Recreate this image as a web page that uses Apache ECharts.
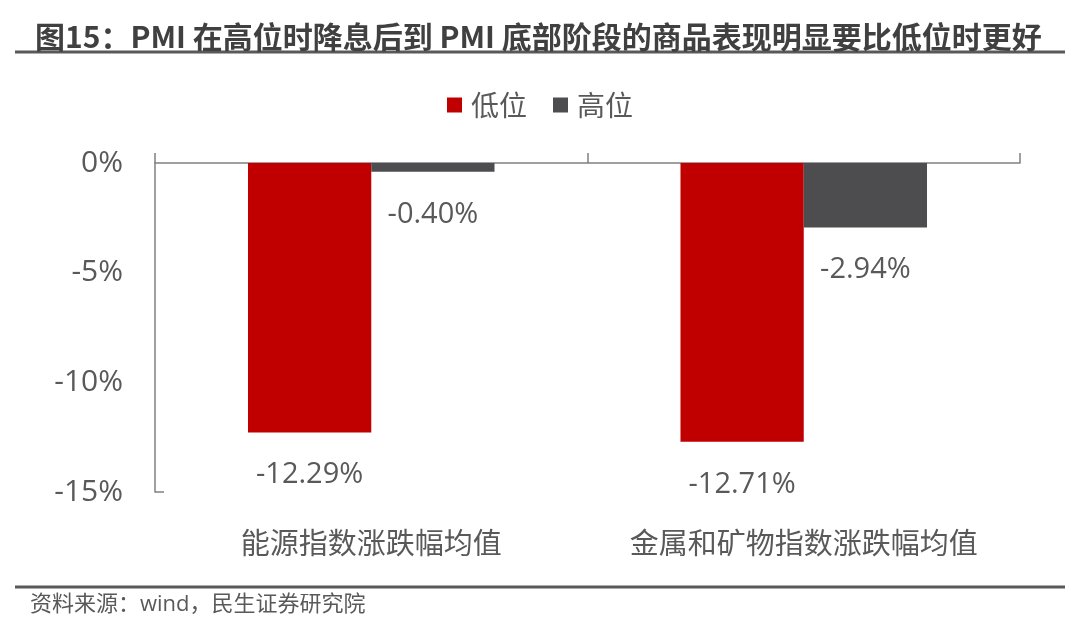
<!DOCTYPE html>
<html>
<head>
<meta charset="utf-8">
<script src="https://cdn.jsdelivr.net/npm/echarts@6/dist/echarts.min.js"></script>
<style>
html,body{margin:0;padding:0;background:#fff;}
#c{width:1080px;height:628px;}
</style>
</head>
<body>
<div id="c"></div>
<script>
const titleText = '图15：PMI 在高位时降息后到 PMI 底部阶段的商品表现明显要比低位时更好';
const sourceText = '资料来源：wind，民生证券研究院';
const categories = ['能源指数涨跌幅均值', '金属和矿物指数涨跌幅均值'];
const seriesNames = ['低位', '高位'];
const lowValues = [-12.29, -12.71];
const highValues = [-0.40, -2.94];
const yTicks = [0, -5, -10, -15];

const CJK = '"Noto Sans CJK SC", "Noto Sans", sans-serif';
const FONT = '"Open Sans", "Noto Sans CJK SC", sans-serif';
const TXT = '#595959';
const RED = '#c00000';
const GRAY = '#4d4d4f';
const AX = '#808080';

const chart = echarts.init(document.getElementById('c'), null, {renderer: 'canvas'});

const labelOpt = {
  show: true,
  position: 'bottom',
  distance: 28,
  color: TXT,
  fontSize: 29,
  fontFamily: FONT,
  formatter: p => p.value.toFixed(2) + '%'
};

chart.setOption({
  animation: false,
  backgroundColor: '#fff',
  textStyle: {fontFamily: FONT},
  title: {
    text: titleText,
    left: 30,
    top: 17,
    textStyle: {fontSize: 30, fontWeight: 'bold', color: '#404040', fontFamily: CJK}
  },
  legend: {
    data: seriesNames,
    top: 86,
    left: 'center',
    itemWidth: 15,
    itemHeight: 15,
    itemGap: 26,
    icon: 'rect',
    textStyle: {fontSize: 28, color: TXT, fontFamily: CJK, padding: [0, 0, 0, 4]}
  },
  grid: {left: 155, right: 60, top: 163, bottom: 136, containLabel: false},
  xAxis: [
    {
      type: 'category',
      data: categories,
      position: 'top',
      axisLine: {show: true, lineStyle: {color: AX, width: 1.5}},
      axisTick: {show: true, length: 10, lineStyle: {color: AX, width: 1.5}},
      axisLabel: {show: false},
      splitLine: {show: false}
    },
    {
      type: 'category',
      data: categories,
      position: 'bottom',
      axisLine: {show: false},
      axisTick: {show: false},
      axisLabel: {show: true, interval: 0, hideOverlap: false, margin: 36, fontSize: 29, color: TXT, fontFamily: CJK},
      splitLine: {show: false}
    }
  ],
  yAxis: {
    type: 'value',
    min: yTicks[yTicks.length - 1],
    max: yTicks[0],
    interval: 5,
    axisLine: {show: true, onZero: false, lineStyle: {color: AX, width: 1.5}},
    axisTick: {show: false},
    splitLine: {show: false},
    axisLabel: {
      margin: 32,
      fontSize: 30,
      color: TXT,
      fontFamily: FONT,
      formatter: v => v + '%'
    }
  },
  series: [
    {
      name: seriesNames[0],
      type: 'bar',
      xAxisIndex: 0,
      data: lowValues,
      barWidth: '28.5%',
      barGap: '0%',
      itemStyle: {color: RED},
      label: labelOpt
    },
    {
      name: seriesNames[1],
      type: 'bar',
      xAxisIndex: 0,
      data: highValues,
      barWidth: '28.5%',
      barGap: '0%',
      itemStyle: {color: GRAY},
      label: labelOpt
    }
  ]
});

// decorations: rules, source note and the small end tick of the y axis
const c0 = chart.convertToPixel({xAxisIndex: 0}, 0);
const c1 = chart.convertToPixel({xAxisIndex: 0}, 1);
const leftX = c0 - (c1 - c0) / 2;
const yBottom = chart.convertToPixel({yAxisIndex: 0}, yTicks[yTicks.length - 1]);
chart.setOption({
  graphic: [
    {type: 'line', shape: {x1: 15, y1: 52, x2: 1065, y2: 52}, style: {stroke: '#595959', lineWidth: 3}},
    {type: 'line', shape: {x1: 15, y1: 587, x2: 1065, y2: 587}, style: {stroke: '#595959', lineWidth: 3}},
    {type: 'line', shape: {x1: leftX, y1: yBottom, x2: leftX + 9, y2: yBottom}, style: {stroke: AX, lineWidth: 1.5}},
    {type: 'text', left: 30, top: 594, style: {text: sourceText, fontSize: 22, fill: TXT, fontFamily: FONT}}
  ]
});
</script>
</body>
</html>
